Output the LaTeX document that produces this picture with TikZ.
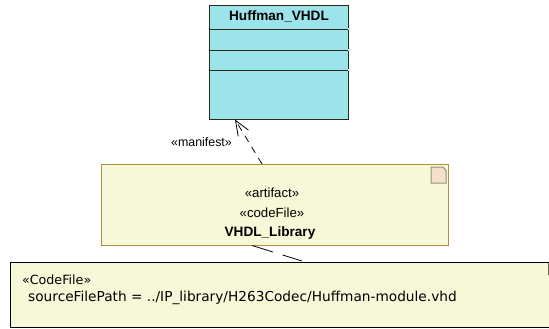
\documentclass[tikz,border=0pt]{standalone}
\usepackage{fontspec}
\setmainfont{Liberation Sans}
\newfontfamily\notefont{DejaVu Sans}
\usetikzlibrary{arrows.meta,calc}
\definecolor{clsfill}{HTML}{9CE4EA}
\definecolor{clsline}{HTML}{2A2A1A}
\definecolor{artfill}{HTML}{F7F8D8}
\definecolor{artline}{HTML}{B09040}
\definecolor{iconfill}{HTML}{F5E0CC}
\definecolor{iconline}{HTML}{9A8F80}
\tikzset{
  x=1pt,y=-1pt,
  boxbase/.style={anchor=north west,inner sep=0pt,outer sep=0pt},
  classbox/.style={boxbase,draw=clsline,fill=clsfill,line width=0.9pt,minimum width=139pt,minimum height=114pt},
  artbox/.style={boxbase,draw=artline,fill=artfill,line width=0.9pt,minimum width=347pt,minimum height=81pt},
  notebox/.style={boxbase,draw=black,fill=artfill,line width=0.9pt,minimum width=539pt,minimum height=65.5pt},
  lbl/.style={font=\fontsize{12.4}{14}\selectfont,text=black,inner sep=0pt},
  stereo/.style={font=\fontsize{13.2}{15}\selectfont,text=black,inner sep=0pt},
  title/.style={font=\fontsize{13.6}{15}\selectfont\bfseries,text=black,inner sep=0pt},
  notetxt/.style={font=\notefont\fontsize{13.7}{15}\selectfont,text=black,inner sep=0pt,anchor=base west},
  notehead/.style={font=\notefont\fontsize{12.7}{15}\selectfont,text=black,inner sep=0pt,anchor=base west},
  dep/.style={draw=black,line width=0.8pt,dash pattern=on 7pt off 6pt},
  deplong/.style={draw=black,line width=0.8pt,dash pattern=on 22pt off 10pt},
  sep/.style={draw=clsline,line width=0.9pt},
  tick/.style={draw=clsfill!75!white,line width=1.4pt},
  iconbox/.style={draw=iconline,fill=iconfill,line width=1pt}
}
\begin{document}
\begin{tikzpicture}
\useasboundingbox (0,0) rectangle (549,329);
\node[classbox] (cls) at (209,5) {};
\node[artbox] (art) at (101,164) {};
\node[notebox] (note) at (10.5,262) {};
% compartments
\foreach \yy/\nm in {29/a,50/b,70/c}{
  \coordinate (l\nm) at (209,\yy);
  \coordinate (r\nm) at (348,\yy);
  \draw[tick] (207.5,\yy) -- (209,\yy);
  \draw[tick] (348,\yy) -- (349.5,\yy);
  \draw[sep] (l\nm) -- (r\nm);
}
\node[title] (ttl) at (279,16) {Huffman\_VHDL};
% artifact text
\node[stereo] (s1) at (272,193) {«artifact»};
\node[stereo] (s2) at (272,213) {«codeFile»};
\node[title] (s3) at (270,233) {VHDL\_Library};
% artifact icon
\draw[iconbox] (431,167) -- (443,167) -- (446,170.5) -- (446,183) -- (431,183) -- cycle;
% note icon
\draw[draw=iconline!70!black,fill=iconfill!60!gray,line width=0.8pt] (548,263) rectangle (551,274);
% note text
\node[notehead] (n1) at (22,284) {«CodeFile»};
\node[notetxt] (n2) at (28,301) {sourceFilePath = ../IP\_library/H263Codec/Huffman-module.vhd};
% connectors
\coordinate (aa) at (262,164);
\coordinate (ab) at (235,119.5);
\coordinate (ca) at (252,245.5);
\coordinate (cb) at (302,261);
\draw[dep] (aa) -- (ab);
\draw[draw=black,line width=0.8pt,-{Straight Barb[length=15pt,width=12pt,line width=0.8pt]}] ($(ab)!0.05!(aa)$) -- (ab);
\draw[deplong] (ca) -- (cb);
\node[lbl] (mf) at (201.5,142.5) {«manifest»};
\end{tikzpicture}
\end{document}
